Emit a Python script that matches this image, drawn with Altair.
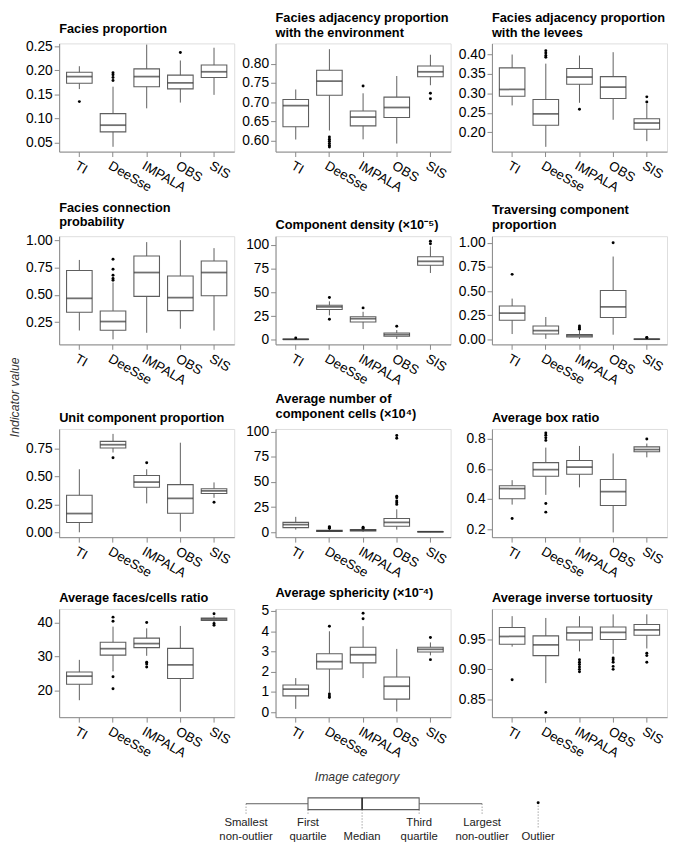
import altair as alt
import pandas as pd

CATEGORIES = ["TI", "DeeSse", "IMPALA", "OBS", "SIS"]

# stats per category: [lower whisker, Q1, median, Q3, upper whisker]
P1_TITLE = "Facies proportion"
P1_STATS = [[0.161, 0.173, 0.187, 0.196, 0.2086], [0.041, 0.072, 0.086, 0.110, 0.166],
            [0.121, 0.166, 0.187, 0.203, 0.2535], [0.133, 0.1615, 0.174, 0.190, 0.2205],
            [0.149, 0.185, 0.197, 0.211, 0.247]]
P1_OUT = [[0.135], [0.179, 0.185, 0.191, 0.195], [], [0.237], []]
P1_TICKS = [0.05, 0.10, 0.15, 0.20, 0.25]
P1_DOMAIN = [0.031, 0.256]

P2_TITLE = ["Facies adjacency proportion", "with the environment"]
P2_STATS = [[0.6025, 0.636, 0.691, 0.707, 0.733], [0.626, 0.718, 0.755, 0.783, 0.838],
            [0.603, 0.638, 0.661, 0.677, 0.723], [0.592, 0.660, 0.686, 0.713, 0.768],
            [0.744, 0.766, 0.779, 0.794, 0.8235]]
P2_OUT = [[], [0.609, 0.603, 0.598, 0.592, 0.587, 0.583], [0.742], [], [0.723, 0.709]]
P2_TICKS = [0.60, 0.65, 0.70, 0.75, 0.80]
P2_DOMAIN = [0.571, 0.853]

P3_TITLE = ["Facies adjacency proportion", "with the levees"]
P3_STATS = [[0.269, 0.2925, 0.310, 0.3656, 0.40], [0.1623, 0.2177, 0.247, 0.284, 0.3765],
            [0.2757, 0.3236, 0.342, 0.364, 0.3975], [0.232, 0.2866, 0.316, 0.343, 0.406],
            [0.177, 0.2076, 0.2236, 0.2345, 0.273]]
P3_OUT = [[], [0.393, 0.3975, 0.404, 0.41], [0.259], [], [0.278, 0.291]]
P3_TICKS = [0.20, 0.25, 0.30, 0.35, 0.40]
P3_DOMAIN = [0.150, 0.4286]

P4_TITLE = ["Facies connection", "probability"]
P4_STATS = [[0.174, 0.341, 0.468, 0.722, 0.819], [0.093, 0.177, 0.256, 0.353, 0.613],
            [0.153, 0.486, 0.704, 0.855, 0.982], [0.19, 0.356, 0.474, 0.673, 1.0],
            [0.174, 0.492, 0.704, 0.809, 0.927]]
P4_OUT = [[], [0.634, 0.649, 0.679, 0.734, 0.825], [], [], []]
P4_TICKS = [0.25, 0.50, 0.75, 1.00]
P4_DOMAIN = [0.047, 1.036]

P5_TITLE = "Component density (×10⁻⁵)"
P5_STATS = [[0.1, 0.3, 0.6, 0.9, 1.5], [25.8, 32.0, 34.7, 36.4, 40.6],
            [11.4, 18.9, 22.3, 24.4, 29.6], [1.0, 3.8, 5.5, 7.2, 10.3],
            [70.5, 78.7, 82.8, 87.6, 98.6]]
P5_OUT = [[1.9], [44.7, 21.7], [33.7], [14.4], [101.4, 104.1]]
P5_TICKS = [0, 25, 50, 75, 100]
P5_DOMAIN = [-4.8, 109.3]

P6_TITLE = ["Traversing component", "proportion"]
P6_STATS = [[0.057, 0.2, 0.273, 0.347, 0.423], [0.007, 0.057, 0.093, 0.14, 0.233],
            [0.007, 0.027, 0.04, 0.053, 0.09], [0.05, 0.227, 0.337, 0.507, 0.857],
            [0.0, 0.002, 0.004, 0.006, 0.012]]
P6_OUT = [[0.673], [], [0.107, 0.123, 0.14], [1.0], [0.018, 0.022]]
P6_TICKS = [0.00, 0.25, 0.50, 0.75, 1.00]
P6_DOMAIN = [-0.05, 1.067]

P7_TITLE = "Unit component proportion"
P7_STATS = [[0.0, 0.088, 0.168, 0.332, 0.565], [0.715, 0.756, 0.785, 0.815, 0.882],
            [0.259, 0.403, 0.45, 0.509, 0.565], [0.006, 0.171, 0.303, 0.427, 0.803],
            [0.309, 0.347, 0.371, 0.391, 0.447]]
P7_OUT = [[], [0.668], [0.624], [], [0.27]]
P7_TICKS = [0.00, 0.25, 0.50, 0.75]
P7_DOMAIN = [-0.044, 0.926]

P8_TITLE = ["Average number of", "component cells (×10⁴)"]
P8_STATS = [[2.6, 4.6, 7.5, 9.8, 15.3], [0.3, 0.9, 1.4, 2.0, 3.2],
            [0.3, 1.3, 2.0, 2.6, 3.3], [2.6, 5.9, 9.8, 13.7, 22.8],
            [0.1, 0.3, 0.5, 0.7, 1.0]]
P8_OUT = [[], [4.0, 4.8, 5.6], [3.9, 4.9], [27.7, 29.3, 31.0, 34.2, 35.8, 93.5, 96.1], []]
P8_TICKS = [0, 25, 50, 75, 100]
P8_DOMAIN = [-4.9, 102.6]

P9_TITLE = "Average box ratio"
P9_STATS = [[0.363, 0.402, 0.470, 0.489, 0.526], [0.428, 0.552, 0.596, 0.643, 0.743],
            [0.478, 0.565, 0.613, 0.657, 0.754], [0.178, 0.357, 0.450, 0.530, 0.704],
            [0.678, 0.715, 0.730, 0.748, 0.770]]
P9_OUT = [[0.270], [0.791, 0.809, 0.826, 0.841, 0.370, 0.313], [], [], [0.8]]
P9_TICKS = [0.2, 0.4, 0.6, 0.8]
P9_DOMAIN = [0.146, 0.867]

P10_TITLE = "Average faces/cells ratio"
P10_STATS = [[17.1, 21.8, 24.2, 25.4, 29.0], [25.6, 30.4, 32.3, 34.2, 38.8],
             [30.2, 32.6, 33.8, 35.4, 38.3], [13.7, 23.5, 27.5, 32.4, 39.0],
             [40.2, 40.6, 41.0, 41.3, 41.9]]
P10_OUT = [[], [40.4, 41.6, 24.0, 20.5], [40.0, 28.3, 27.8, 26.9], [], [42.6, 39.7, 39.2]]
P10_TICKS = [20, 30, 40]
P10_DOMAIN = [12.1, 44.0]

P11_TITLE = "Average sphericity (×10⁻⁴)"
P11_STATS = [[0.17, 0.81, 1.14, 1.35, 1.69], [0.97, 2.14, 2.5, 2.89, 4.0],
             [1.69, 2.44, 2.84, 3.21, 4.25], [0.04, 0.65, 1.29, 1.74, 3.13],
             [2.81, 2.98, 3.11, 3.21, 3.45]]
P11_OUT = [[], [4.25, 0.9, 0.81, 0.73], [4.62, 4.89], [], [3.69, 2.6]]
P11_TICKS = [0, 1, 2, 3, 4, 5]
P11_DOMAIN = [-0.24, 5.1]

P12_TITLE = "Average inverse tortuosity"
P12_STATS = [[0.938, 0.942, 0.955, 0.970, 0.989], [0.877, 0.923, 0.941, 0.956, 0.986],
             [0.930, 0.949, 0.961, 0.971, 0.989], [0.926, 0.950, 0.962, 0.971, 0.992],
             [0.935, 0.957, 0.966, 0.975, 0.992]]
P12_OUT = [[0.8825], [0.828], [0.916, 0.912, 0.908, 0.904, 0.900, 0.896],
           [0.919, 0.916, 0.912, 0.905, 0.900], [0.927, 0.923, 0.912]]
P12_TICKS = [0.85, 0.90, 0.95]
P12_DOMAIN = [0.820, 1.001]

LEGEND_LABELS = ["Smallest\nnon-outlier", "First\nquartile", "Median",
                 "Third\nquartile", "Largest\nnon-outlier", "Outlier"]
LEGEND_POS = [190, 253, 308, 366, 430, 487]

FONT = "Liberation Sans"
BOX_COL = "#5e5e5e"
MED_COL = "#333333"
PW, PH = 178, 110


def panel(title, stats, outs, ticks, domain, fmt):
    box = pd.DataFrame({
        "cat": CATEGORIES,
        "low": [s[0] for s in stats], "q1": [s[1] for s in stats],
        "med": [s[2] for s in stats], "q3": [s[3] for s in stats],
        "high": [s[4] for s in stats],
    })
    pts = pd.DataFrame({"cat": [c for c, o in zip(CATEGORIES, outs) for _ in o],
                        "v": [v for o in outs for v in o]})
    x = alt.X("cat:N", sort=CATEGORIES,
              scale=alt.Scale(paddingInner=0, paddingOuter=0.1),
              axis=alt.Axis(title=None, labelAngle=30, labelAlign="left",
                            labelBaseline="top", labelFontSize=13.5, labelPadding=2))
    ysc = alt.Scale(domain=domain, nice=False, zero=False)
    yax = alt.Axis(title=None, values=ticks, format=fmt, grid=False, labelFontSize=14)

    def Y(f):
        return alt.Y(f + ":Q", scale=ysc, axis=yax)

    base = alt.Chart(box)
    whisk = base.mark_rule(color=BOX_COL, strokeWidth=1).encode(x=x, y=Y("low"), y2="high:Q")
    rect = base.mark_bar(fill="white", stroke=BOX_COL, strokeWidth=1.1, size=26).encode(
        x=x, y=Y("q1"), y2="q3:Q")
    med = base.mark_tick(color=MED_COL, size=26, thickness=1.8).encode(x=x, y=Y("med"))
    out = alt.Chart(pts).mark_circle(color="black", size=9, opacity=1).encode(x=x, y=Y("v"))
    return alt.layer(whisk, rect, med, out).properties(
        width=PW, height=PH,
        title=alt.TitleParams(title, anchor="start", frame="group", lineHeight=15))


panels = [
    panel(P1_TITLE, P1_STATS, P1_OUT, P1_TICKS, P1_DOMAIN, ".2f"),
    panel(P2_TITLE, P2_STATS, P2_OUT, P2_TICKS, P2_DOMAIN, ".2f"),
    panel(P3_TITLE, P3_STATS, P3_OUT, P3_TICKS, P3_DOMAIN, ".2f"),
    panel(P4_TITLE, P4_STATS, P4_OUT, P4_TICKS, P4_DOMAIN, ".2f"),
    panel(P5_TITLE, P5_STATS, P5_OUT, P5_TICKS, P5_DOMAIN, "d"),
    panel(P6_TITLE, P6_STATS, P6_OUT, P6_TICKS, P6_DOMAIN, ".2f"),
    panel(P7_TITLE, P7_STATS, P7_OUT, P7_TICKS, P7_DOMAIN, ".2f"),
    panel(P8_TITLE, P8_STATS, P8_OUT, P8_TICKS, P8_DOMAIN, "d"),
    panel(P9_TITLE, P9_STATS, P9_OUT, P9_TICKS, P9_DOMAIN, ".1f"),
    panel(P10_TITLE, P10_STATS, P10_OUT, P10_TICKS, P10_DOMAIN, "d"),
    panel(P11_TITLE, P11_STATS, P11_OUT, P11_TICKS, P11_DOMAIN, "d"),
    panel(P12_TITLE, P12_STATS, P12_OUT, P12_TICKS, P12_DOMAIN, ".2f"),
]

g123 = alt.concat(*panels[:9], columns=3, spacing={"row": 86, "column": 42}, bounds="flush")
r4 = alt.hconcat(*panels[9:], spacing=42, bounds="flush")
grid = alt.vconcat(g123, r4, spacing=6).properties(
    title=alt.TitleParams("Image category", orient="bottom", anchor="middle",
                          fontStyle="italic", fontWeight="normal", fontSize=12.5,
                          color="#333333", offset=11, dx=11))
middle = alt.vconcat(grid).properties(
    title=alt.TitleParams("Indicator value", orient="left", anchor="middle",
                          fontStyle="italic", fontWeight="normal", fontSize=12.5,
                          color="#333333", offset=4))

# ---- schematic legend of the box plot ----
LW = 618
xs = alt.Scale(domain=[0, LW], nice=False, zero=False)
leg_one = pd.DataFrame({"lo": [LEGEND_POS[0]], "q1": [LEGEND_POS[1]], "med": [LEGEND_POS[2]],
                        "q3": [LEGEND_POS[3]], "hi": [LEGEND_POS[4]], "out": [LEGEND_POS[5]]})
two_line = ["\n" in t for t in LEGEND_LABELS]
leg_lab = pd.DataFrame({
    "pos": LEGEND_POS,
    "label": LEGEND_LABELS,
    "y0": [10, 16, 16, 16, 10, 12],
    "y1": [22 if t else 35 for t in two_line],
    "ty": [24 if t else 37.5 for t in two_line],
})
lb = alt.Chart(leg_one)
l_wh = lb.mark_rule(color=BOX_COL).encode(
    x=alt.X("lo:Q", scale=xs, axis=None), x2="hi:Q", y=alt.value(10))
l_box = lb.mark_rect(fill="white", stroke=BOX_COL, strokeWidth=1.1).encode(
    x=alt.X("q1:Q", scale=xs, axis=None), x2="q3:Q", y=alt.value(4), y2=alt.value(16))
l_med = lb.mark_rule(color=MED_COL, strokeWidth=1.8).encode(
    x=alt.X("med:Q", scale=xs, axis=None), y=alt.value(4), y2=alt.value(16))
l_out = lb.mark_circle(color="black", size=9, opacity=1).encode(
    x=alt.X("out:Q", scale=xs, axis=None), y=alt.value(9))
ll = alt.Chart(leg_lab)
l_dot = ll.mark_rule(color="#555555", strokeDash=[1, 2], strokeWidth=0.8).encode(
    x=alt.X("pos:Q", scale=xs, axis=None),
    y=alt.Y("y0:Q", scale=None), y2="y1:Q")
l_txt = ll.mark_text(font=FONT, fontSize=11.5, color="#222222", baseline="top",
                     lineBreak="\n", lineHeight=13.5).encode(
    x=alt.X("pos:Q", scale=xs, axis=None), y=alt.Y("ty:Q", scale=None), text="label:N")
legend = alt.layer(l_wh, l_box, l_med, l_out, l_dot, l_txt).properties(
    width=LW, height=48, view=alt.ViewConfig(stroke=None))

chart = alt.vconcat(middle, legend, spacing=11).configure_axis(
    domain=False, tickColor="#333333", tickSize=4, labelColor="#4d4d4d",
    labelFont=FONT, labelPadding=2, grid=False
).configure_view(stroke="#333333", strokeWidth=1).configure_title(
    font=FONT, fontSize=12.5, fontWeight="bold", color="black", anchor="start", offset=3
).configure(padding={"left": 0, "top": -4, "right": 0, "bottom": 0})

chart.save("out.html", embed_options={"renderer": "svg", "actions": False})
